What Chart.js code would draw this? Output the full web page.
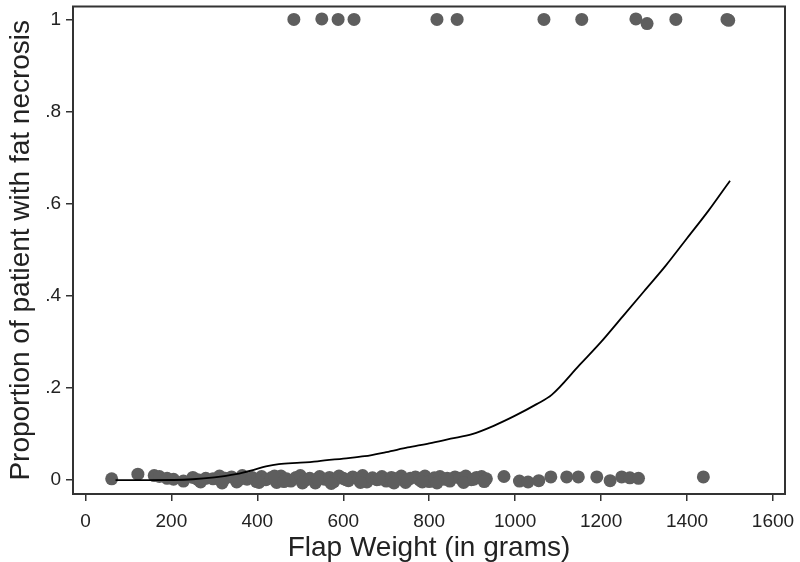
<!DOCTYPE html>
<html>
<head>
<meta charset="utf-8">
<script src="https://cdn.jsdelivr.net/npm/chart.js@4/dist/chart.umd.min.js"></script>
<style>
  body { margin: 0; background: #fff; }
  #wrap { width: 800px; height: 562px; }
</style>
</head>
<body>
<div id="wrap"><canvas id="chart" width="800" height="562"></canvas></div>
<script>
// --- DATA ---
const xTicks = [0, 200, 400, 600, 800, 1000, 1200, 1400, 1600];
const yTicks = [0, 0.2, 0.4, 0.6, 0.8, 1];
const yTickLabels = ['0', '.2', '.4', '.6', '.8', '1'];

// patients without fat necrosis (jittered around 0)
const noNecrosisX = [
  61, 122, 160, 172, 190, 205, 228, 250, 262, 280,
  297, 312, 325, 340, 352, 365, 376, 388, 398, 410,
  420, 432, 445, 455, 468, 478, 490, 500, 512, 522,
  535, 545, 556, 568, 578, 590, 600, 612, 622, 635,
  645, 655, 668, 678, 690, 700, 712, 722, 735, 745,
  756, 768, 778, 790, 800, 812, 825, 835, 848, 860,
  872, 885, 898, 910, 922, 933, 974, 1010, 1030, 1055,
  1083, 1120, 1147, 1190, 1221, 1248, 1267, 1287, 1438,
  268, 318, 358, 404, 440, 462, 505, 540, 572, 606,
  640, 684, 718, 750, 784, 818, 842, 880, 904, 928
];
const noNecrosisY = [
  0.003, 0.013, 0.010, 0.008, 0.004, 0.002, -0.002, 0.006, 0.001, 0.004,
  0.003, 0.009, 0.004, 0.007, -0.004, 0.010, 0.002, 0.006, -0.003, 0.008,
  0.001, 0.005, -0.005, 0.009, 0.003, -0.002, 0.006, 0.010, 0.000, 0.004,
  -0.006, 0.008, 0.002, 0.006, -0.003, 0.009, 0.004, -0.001, 0.007, 0.002,
  0.010, -0.004, 0.005, 0.001, 0.008, -0.002, 0.006, 0.003, 0.009, -0.005,
  0.004, 0.007, 0.000, 0.009, -0.003, 0.005, 0.008, 0.002, -0.002, 0.007,
  0.004, 0.009, 0.001, 0.006, 0.008, 0.003, 0.008, -0.002, -0.004, -0.001,
  0.007, 0.007, 0.007, 0.007, -0.001, 0.007, 0.005, 0.004, 0.007,
  -0.004, -0.006, 0.001, -0.005, 0.009, -0.003, -0.006, 0.003, -0.007, 0.001,
  -0.005, 0.002, -0.006, 0.001, -0.004, -0.006, 0.004, -0.005, 0.002, -0.003
];

// patients with fat necrosis (around 1)
const necrosisX = [485, 550, 588, 625, 818, 865, 1067, 1155, 1281, 1307, 1374, 1493, 1497];
const necrosisY = [1.0, 1.001, 1.0, 1.0, 1.0, 1.0, 1.0, 1.0, 1.001, 0.991, 1.0, 1.0, 0.998];

// smoothed proportion curve
const fitX = [70, 150, 250, 300, 350, 390, 420, 450, 500, 540, 600, 650, 700, 750, 800,
  850, 900, 950, 1000, 1050, 1085, 1150, 1200, 1250, 1300, 1350, 1400, 1450, 1500];
const fitY = [0.0, 0.0, 0.002, 0.006, 0.013, 0.022, 0.030, 0.035, 0.038, 0.041, 0.047, 0.052,
  0.061, 0.071, 0.080, 0.090, 0.100, 0.118, 0.140, 0.165, 0.185, 0.250, 0.300, 0.355,
  0.410, 0.465, 0.525, 0.585, 0.650];

const FONT = "'Liberation Sans', Arial, Helvetica, sans-serif";
const DOT = '#5e5e5e';

const toPts = (xs, ys) => xs.map((x, i) => ({ x: x, y: ys[i] }));

// box around the plot region (Stata style)
const boxPlugin = {
  id: 'box',
  afterDraw(chart) {
    const a = chart.chartArea, c = chart.ctx;
    c.save();
    c.strokeStyle = '#333';
    c.lineWidth = 2;
    c.strokeRect(a.left, a.top, a.right - a.left, a.bottom - a.top);
    c.restore();
  }
};

new Chart(document.getElementById('chart'), {
  type: 'scatter',
  data: {
    datasets: [
      {
        data: toPts(fitX, fitY),
        showLine: true,
        borderColor: '#000',
        borderWidth: 1.8,
        pointRadius: 0,
        cubicInterpolationMode: 'monotone',
        order: 0
      },
      {
        data: toPts(noNecrosisX, noNecrosisY).concat(toPts(necrosisX, necrosisY)),
        backgroundColor: DOT,
        borderColor: DOT,
        borderWidth: 0,
        pointRadius: 6.5,
        order: 1
      }
    ]
  },
  options: {
    responsive: false,
    animation: false,
    layout: { padding: { top: 3, right: 15, left: 0, bottom: 0 } },
    plugins: { legend: { display: false }, tooltip: { enabled: false } },
    scales: {
      x: {
        type: 'linear',
        min: -29,
        max: 1628,
        afterBuildTicks: s => { s.ticks = xTicks.map(v => ({ value: v })); },
        afterFit: s => { s.height = 68; s.paddingLeft = 0; s.paddingRight = 0; },
        border: { display: false },
        grid: { drawOnChartArea: false, drawTicks: true, tickLength: 7, color: '#333', lineWidth: 1.5 },
        ticks: { color: '#222', font: { family: FONT, size: 19 }, padding: 9, maxRotation: 0,
          callback: v => String(v) },
        title: { display: true, text: 'Flap Weight (in grams)', color: '#222',
          font: { family: FONT, size: 28 }, padding: { top: 0, bottom: -3 } }
      },
      y: {
        type: 'linear',
        min: -0.030,
        max: 1.028,
        afterBuildTicks: s => { s.ticks = yTicks.map(v => ({ value: v })); },
        afterFit: s => { s.width = 73; s.paddingTop = 0; s.paddingBottom = 0; },
        border: { display: false },
        grid: { drawOnChartArea: false, drawTicks: true, tickLength: 7, color: '#333', lineWidth: 1.5 },
        ticks: {
          color: '#222', font: { family: FONT, size: 19 }, padding: 5,
          callback: v => yTickLabels[yTicks.indexOf(v)]
        },
        title: { display: true, text: 'Proportion of patient with fat necrosis', color: '#222',
          font: { family: FONT, size: 28 }, padding: { top: 4, bottom: 0 } }
      }
    }
  },
  plugins: [boxPlugin]
});
</script>
</body>
</html>
